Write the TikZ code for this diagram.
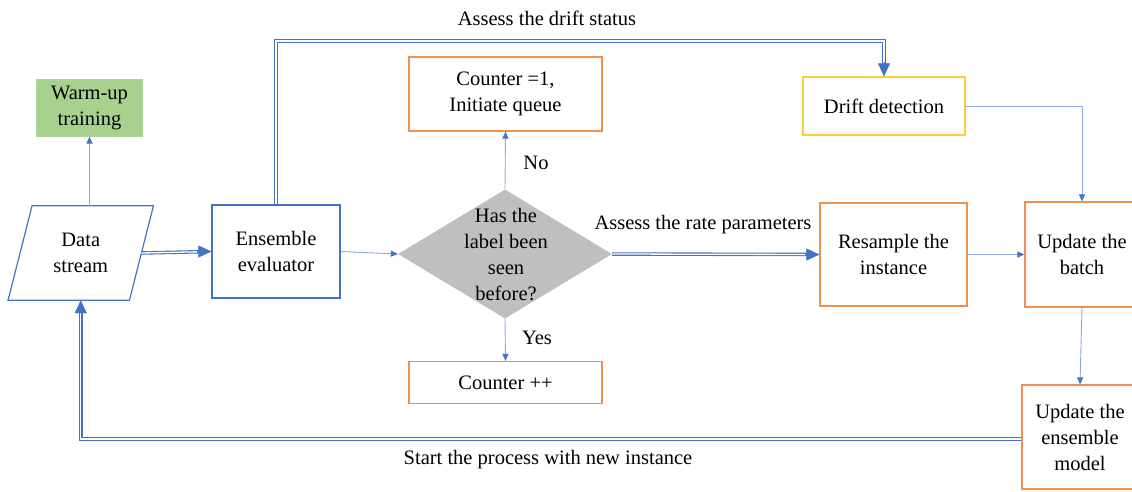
\documentclass[tikz,border=0pt]{standalone}
\usepackage{fontspec}
\setmainfont{Liberation Serif}
\usetikzlibrary{shapes.geometric,arrows.meta,calc}
\definecolor{cblue}{HTML}{4472C4}
\definecolor{lblue}{HTML}{8FAADC}
\definecolor{corange}{HTML}{ED7D31}
\definecolor{cyellow}{HTML}{FFC000}
\definecolor{cgreen}{HTML}{A9D18E}
\definecolor{cgreenb}{HTML}{8CC06A}
\definecolor{cgray}{HTML}{BFBFBF}
\tikzset{
  box/.style={rectangle,inner sep=0pt,align=center,line width=1.2pt},
  bluebox/.style={box,draw=cblue},
  orangebox/.style={box,draw=corange!85},
  yellowbox/.style={box,draw=cyellow!80},
  greenbox/.style={box,fill=cgreen,draw=cgreenb!70},
  txt/.style={inner sep=0pt,align=center},
  thinarrow/.style={draw=lblue,line width=0.9pt,-{Triangle[length=7pt,width=6pt,color=cblue]}},
  dblline/.style={draw=cblue,line width=1.1pt,double=white,double distance=1.3pt,shorten >=11pt},
  bigtip/.style={draw=cblue,line width=0.4pt,-{Triangle[length=13pt,width=12pt,color=cblue,fill=cblue]}},
}
\begin{document}
\begin{tikzpicture}[x=1pt,y=-1pt,font=\fontsize{20.5}{26}\selectfont]
\useasboundingbox (0,0) rectangle (1132,491);
% nodes
\node[greenbox,minimum width=105,minimum height=56] (warm) at (89.5,108) {Warm-up\\training};
\node[txt,minimum width=121,minimum height=94] (data) at (80.75,253) {Data\\stream};
\draw[cblue,line width=1.2pt] ([xshift=-12pt]data.south west) -- ([xshift=12pt]data.north west)
  -- ([xshift=12pt]data.north east) -- ([xshift=-12pt]data.south east) -- cycle;
\node[bluebox,minimum width=128,minimum height=93] (ens) at (276,251.5) {Ensemble\\evaluator};
\node[orangebox,minimum width=193,minimum height=74] (c1) at (505.5,94) {Counter =1,\\Initiate queue};
\node[diamond,fill=cgray,inner sep=0pt,minimum width=214,minimum height=129] (dia) at (505,254) {};
\node[txt] (diatext) at (506,255) {Has the\\label been\\seen\\before?};
\node[orangebox,minimum width=193,minimum height=42] (c2) at (505.5,382.5) {Counter ++};
\node[yellowbox,minimum width=162,minimum height=58] (drift) at (884,106) {Drift detection};
\node[orangebox,minimum width=147,minimum height=103] (res) at (893.5,254.5) {Resample the\\instance};
\node[orangebox,minimum width=114,minimum height=105] (batch) at (1082,254.5) {Update the\\batch};
\node[orangebox,minimum width=116,minimum height=104] (model) at (1080,437) {Update the\\ensemble\\model};
\coordinate (top) at (0,41);
\coordinate (bot) at (0,439);
% thin connectors
\draw[thinarrow] (warm.south |- data.north) -- (warm.south);
\draw[thinarrow] (ens.east) -- (dia.west);
\draw[thinarrow] (dia.north) -- (c1.south);
\draw[thinarrow] (dia.south) -- (c2.north);
\draw[thinarrow] (drift.east) -- (drift.east -| batch.north) -- (batch.north);
\draw[thinarrow] (res.east) -- (batch.west);
\draw[thinarrow] (batch.south) -- (model.north);
% double connectors
\draw[dblline] (data.east) -- (ens.west);
\draw[bigtip] ([xshift=-14pt]ens.west) -- (ens.west);
\draw[dblline] (ens.north) -- (ens.north |- top) -- (drift.north |- top) -- (drift.north);
\draw[bigtip] ([yshift=14pt]drift.north) -- (drift.north);
\draw[dblline] (dia.east) -- (res.west);
\draw[bigtip] ([xshift=-14pt]res.west) -- (res.west);
\draw[dblline] (model.west |- bot) -- (data.south |- bot) -- (data.south);
\draw[bigtip] ([yshift=-14pt]data.south) -- (data.south);
% labels
\node[txt] (l1) at (547,18) {Assess the drift status};
\node[txt] (l2) at (703,225) {Assess the rate parameters};
\node[txt] (l3) at (536,163) {No};
\node[txt] (l4) at (537,338) {Yes};
\node[txt] (l5) at (548,460) {Start the process with new instance};
\end{tikzpicture}
\end{document}
